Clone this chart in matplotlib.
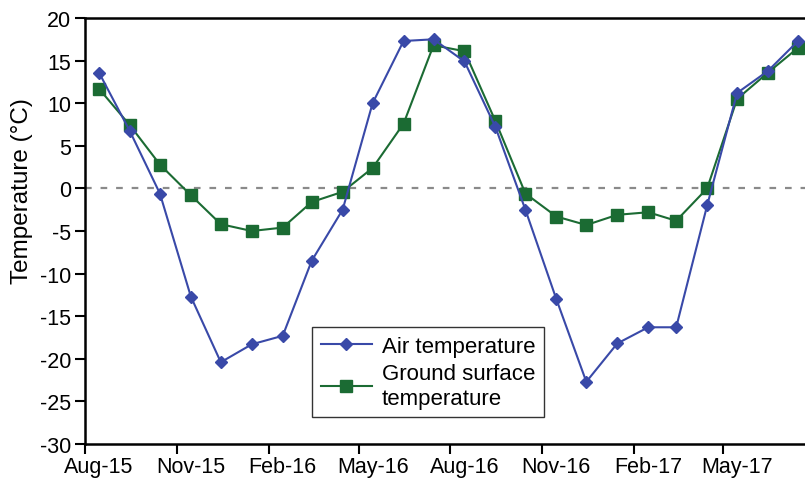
import pandas as pd
import numpy as np
import matplotlib
matplotlib.use("Agg")
import matplotlib.pyplot as plt

# ---------------------------------
# Data (monthly means, Aug-15 .. Jul-17)
# ---------------------------------

months = pd.date_range("2015-08-01", periods=24, freq="MS") + pd.Timedelta(days=14)

air_temp = [13.6, 6.7, -0.6, -12.7, -20.4, -18.3, -17.3, -8.5,
            -2.5, 10.0, 17.3, 17.5, 14.9, 7.2, -2.5, -13.0,
            -22.7, -18.2, -16.3, -16.3, -2.0, 11.2, 13.8, 17.3]

ground_temp = [11.7, 7.4, 2.8, -0.8, -4.2, -5.0, -4.6, -1.6,
               -0.4, 2.4, 7.6, 16.8, 16.1, 7.9, -0.6, -3.3,
               -4.3, -3.1, -2.8, -3.8, 0.0, 10.5, 13.6, 16.5]

tick_months = pd.date_range("2015-08-01", "2017-05-01", freq="3MS")
tick_labels = [d.strftime("%b-%y") for d in tick_months]

# ---------------------------------
# Plot
# ---------------------------------

plt.rcParams["font.family"] = ["Liberation Sans", "DejaVu Sans"]
plt.rcParams["axes.unicode_minus"] = False

fig = plt.figure(figsize=(8.05, 4.85), dpi=100)
ax = fig.add_axes([85 / 805, 40 / 485, 730 / 805, 426 / 485])

ax.axhline(0, color="#8a8a8a", linestyle=(0, (3, 4)), linewidth=1.6, zorder=1)

ax.plot(
    months, air_temp,
    color="#3949a8", marker="D", markersize=6.5,
    linewidth=1.5, label="Air temperature", zorder=3
)

ax.plot(
    months, ground_temp,
    color="#1b6b33", marker="s", markersize=8,
    linewidth=1.5, label="Ground surface\ntemperature", zorder=2
)

ax.set_xlim(pd.Timestamp("2015-08-01"), pd.Timestamp("2017-08-01"))
ax.set_ylim(-30, 20)
ax.set_yticks(np.arange(-30, 21, 5))

# ticks at month starts, labels at mid-month
ax.set_xticks(tick_months)
ax.set_xticklabels([""] * len(tick_months))
ax.set_xticks(tick_months + pd.Timedelta(days=14), minor=True)
ax.set_xticklabels(tick_labels, minor=True)
ax.tick_params(axis="x", which="minor", length=0, pad=9, labelsize=15.5)
ax.tick_params(axis="x", which="major", length=7, width=1.5, direction="out")
ax.tick_params(axis="y", length=7, width=1.5, direction="out", labelsize=15.5, pad=3)

for side in ["left", "bottom", "top", "right"]:
    ax.spines[side].set_linewidth(1.8)

ax.set_ylabel("Temperature (°C)", fontsize=17.5)
ax.yaxis.set_label_coords(-0.071, 0.596)

leg = ax.legend(
    loc="upper left",
    bbox_to_anchor=(0.311, 0.275),
    borderaxespad=0,
    fontsize=16,
    frameon=True,
    fancybox=False,
    edgecolor="black",
    handlelength=2.3,
    borderpad=0.4,
    labelspacing=0.3,
    handletextpad=0.45,
)
leg.get_frame().set_linewidth(1.0)

fig.savefig("out.png", dpi=100)
